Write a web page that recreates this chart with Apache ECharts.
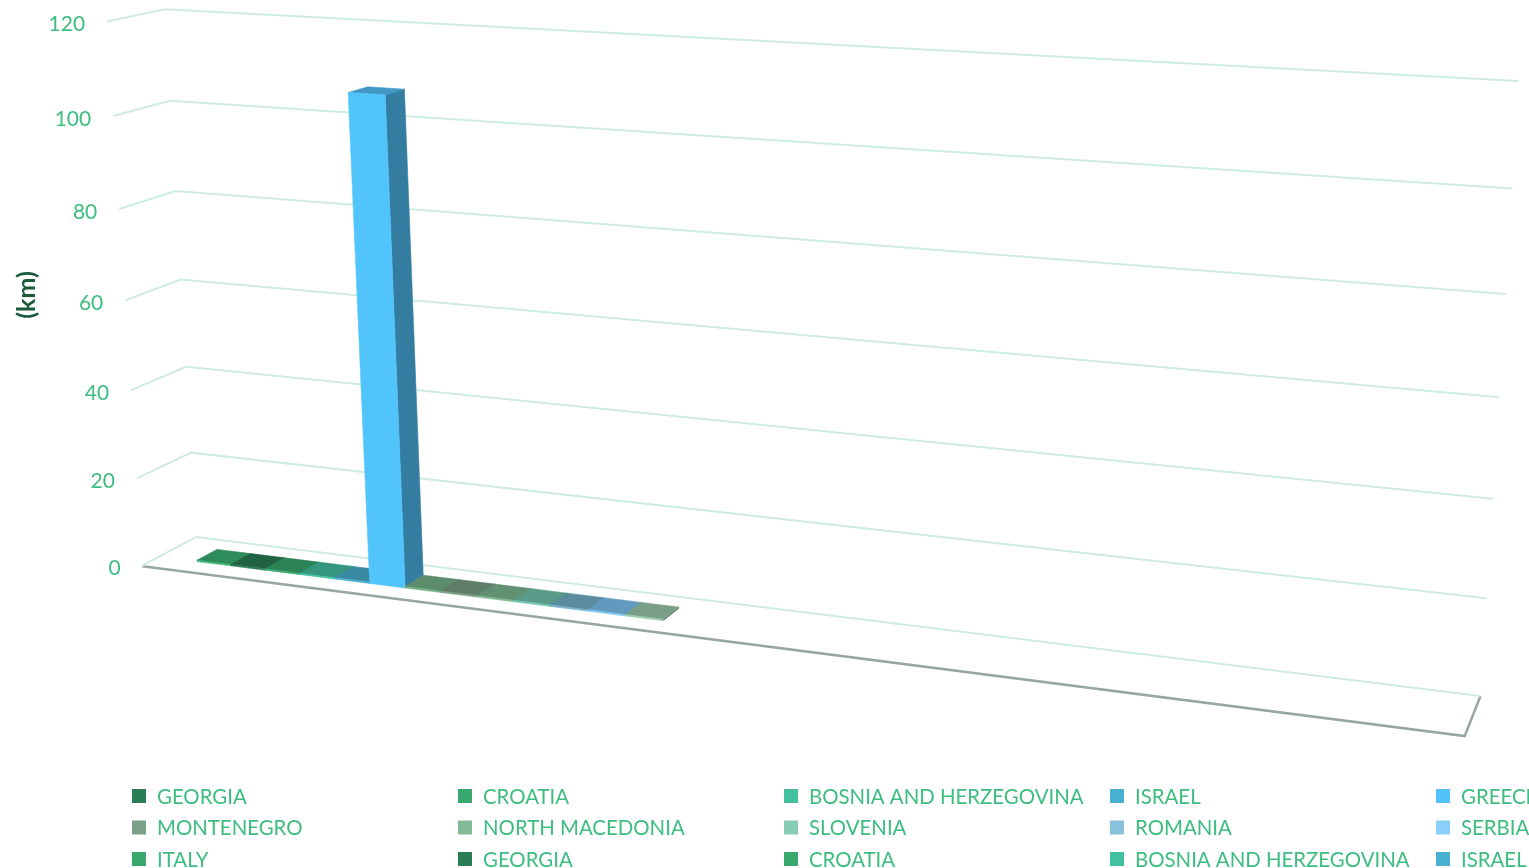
<!DOCTYPE html>
<html>
<head>
<meta charset="utf-8">
<script src="https://cdn.jsdelivr.net/npm/echarts@6/dist/echarts.min.js"></script>
<style>
  html, body { margin: 0; padding: 0; background: #ffffff; }
  #chart { width: 1529px; height: 868px; }
</style>
</head>
<body>
<div id="chart"></div>
<script>
// ---- data -------------------------------------------------------------
const AXIS_MIN = 0;
const AXIS_MAX = 120;
const AXIS_STEP = 20;
const tickValues = [0, 20, 40, 60, 80, 100, 120];
const axisTitle = '(km)';

// one column per country, left to right
const countries = ['ITALY', 'GEORGIA', 'CROATIA', 'BOSNIA AND HERZEGOVINA', 'ISRAEL', 'GREECE',
  'NORTH MACEDONIA', 'MONTENEGRO', 'NORTH MACEDONIA', 'SLOVENIA', 'ROMANIA', 'SERBIA', 'MONTENEGRO'];
const lengthsKm = [0.3, 0.3, 0.3, 0.3, 0.3, 107, 0.3, 0.3, 0.3, 0.3, 0.3, 0.3, 0.3];
const columnColors = ['#3bb273', '#2a7d55', '#38a86e', '#42c0a0', '#4ab0d0', '#52c4fc',
  '#76b48a', '#7aa088', '#7cba92', '#74c6ae', '#74b2cc', '#7cc6f4', '#9ccbae'];

// legend entries
const legendNames = ['GEORGIA', 'CROATIA', 'BOSNIA AND HERZEGOVINA', 'ISRAEL', 'GREECE',
  'MONTENEGRO', 'NORTH MACEDONIA', 'SLOVENIA', 'ROMANIA', 'SERBIA',
  'ITALY', 'GEORGIA', 'CROATIA', 'BOSNIA AND HERZEGOVINA', 'ISRAEL'];
const legendColors = ['#2a7d55', '#38a86e', '#42c0a0', '#4ab0d0', '#52c2fa',
  '#7aa088', '#80bb96', '#88ccb8', '#88c2da', '#8acffa',
  '#38a86e', '#2a7d55', '#38a86e', '#42c0a0', '#4ab0d0'];

// ---- 3D frame: perspective camera fitted to the box corners ------------
// [u (width 0..1), v (height 0..1), w (depth 0 front .. 1 back), screenX, screenY]
const FRAME = [
  [0, 0, 1, 196, 537], [0, 1/6, 1, 192, 453], [0, 2/6, 1, 186, 367], [0, 3/6, 1, 180, 280],
  [0, 4/6, 1, 175, 191], [0, 5/6, 1, 170, 101], [0, 1, 1, 164, 9],
  [0, 0, 0, 143, 566], [0, 1/6, 0, 137, 479], [0, 2/6, 0, 131, 389], [0, 3/6, 0, 126, 298],
  [0, 4/6, 0, 119, 209], [0, 5/6, 0, 113, 117], [0, 1, 0, 107, 22],
  [1, 0, 1, 1480, 696], [1, 1/6, 1, 1486, 598], [1, 2/6, 1, 1493, 498], [1, 3/6, 1, 1500, 397],
  [1, 4/6, 1, 1505, 294], [1, 5/6, 1, 1513, 188], [1, 1, 1, 1519, 82],
  [1, 0, 0, 1464, 736]
];
const ROW_U0 = 0.034, ROW_U1 = 0.424;   // span of the column row along the width
const DEPTH_W0 = 0.30, DEPTH_W1 = 0.68; // column depth inside the floor

function solveLinear(A, b) {
  const n = b.length;
  const M = A.map((row, i) => row.concat([b[i]]));
  for (let c = 0; c < n; c++) {
    let p = c;
    for (let r = c + 1; r < n; r++) if (Math.abs(M[r][c]) > Math.abs(M[p][c])) p = r;
    [M[c], M[p]] = [M[p], M[c]];
    for (let r = 0; r < n; r++) {
      if (r === c) continue;
      const f = M[r][c] / M[c][c];
      for (let k = c; k <= n; k++) M[r][k] -= f * M[c][k];
    }
  }
  return M.map((row, i) => row[n] / row[i]);
}

function fitCamera(points) {
  const SX = 764, SY = 434;
  const N = Array.from({ length: 11 }, () => new Array(11).fill(0));
  const r = new Array(11).fill(0);
  const add = (row, rhs) => {
    for (let i = 0; i < 11; i++) {
      r[i] += row[i] * rhs;
      for (let j = 0; j < 11; j++) N[i][j] += row[i] * row[j];
    }
  };
  points.forEach(([X, Y, Z, x, y]) => {
    const xn = x / SX - 1, yn = y / SY - 1;
    add([X, Y, Z, 1, 0, 0, 0, 0, -xn * X, -xn * Y, -xn * Z], xn);
    add([0, 0, 0, 0, X, Y, Z, 1, -yn * X, -yn * Y, -yn * Z], yn);
  });
  const p = solveLinear(N, r);
  return function (X, Y, Z) {
    const d = p[8] * X + p[9] * Y + p[10] * Z + 1;
    const xn = (p[0] * X + p[1] * Y + p[2] * Z + p[3]) / d;
    const yn = (p[4] * X + p[5] * Y + p[6] * Z + p[7]) / d;
    return [(xn + 1) * SX, (yn + 1) * SY];
  };
}
const project = fitCamera(FRAME);

function shade(hex, f) {
  const n = parseInt(hex.slice(1), 16);
  const c = [(n >> 16) & 255, (n >> 8) & 255, n & 255].map(v => Math.round(v * f));
  return 'rgb(' + c.join(',') + ')';
}
function signedArea(pts) {
  let s = 0;
  for (let i = 0; i < pts.length; i++) {
    const a = pts[i], b = pts[(i + 1) % pts.length];
    s += a[0] * b[1] - b[0] * a[1];
  }
  return s;
}
// height fraction of a value on the hidden value axis
function heightFrac(params, api, value) {
  const cs = params.coordSys;
  return (cs.y + cs.height - api.coord([0, value])[1]) / cs.height;
}

const LABEL_COLOR = '#3dbd80';
const GRID_COLOR = '#cfece0';
const FONT = 'Lato, "Open Sans", sans-serif';

// ---- chart ---------------------------------------------------------------
const chart = echarts.init(document.getElementById('chart'), null, { renderer: 'canvas' });

const legendGraphics = [];
legendNames.forEach((name, k) => {
  const col = k % 5, row = Math.floor(k / 5);
  const x = 132 + col * 326, y = 796 + row * 31.5;
  legendGraphics.push({
    type: 'rect', shape: { x: x, y: y - 7, width: 14, height: 14 },
    style: { fill: legendColors[k] }, silent: true
  });
  legendGraphics.push({
    type: 'text', x: x + 25, y: y + 1,
    style: { text: name, fill: LABEL_COLOR, font: '20.4px ' + FONT, verticalAlign: 'middle', align: 'left' },
    silent: true
  });
});
legendGraphics.push({
  type: 'text', x: 27, y: 295, rotation: Math.PI / 2,
  style: { text: axisTitle, fill: '#1b5a3a', font: 'bold 25px ' + FONT, align: 'center', verticalAlign: 'middle' },
  silent: true
});

chart.setOption({
  backgroundColor: '#ffffff',
  animation: false,
  grid: { left: 0, top: 0, width: 1000, height: 1000, show: false },
  xAxis: { type: 'category', data: countries, show: false },
  yAxis: { type: 'value', min: AXIS_MIN, max: AXIS_MAX, interval: AXIS_STEP, show: false },
  graphic: legendGraphics,
  series: [
    {
      // floor slab
      type: 'custom', coordinateSystem: 'cartesian2d', clip: false, silent: true, z: 1,
      data: [[0, 0]],
      renderItem: function () {
        const fl = project(0, 0, 0), fr = project(1, 0, 0), br = project(1, 0, 1), bl = project(0, 0, 1);
        return {
          type: 'group', children: [
            { type: 'polygon', shape: { points: [fl, fr, br, bl] }, style: { fill: '#ffffff' } },
            { type: 'polyline', shape: { points: [[fl[0], fl[1] + 1], [fr[0], fr[1] + 1], [br[0], br[1]]] },
              style: { stroke: '#97a6a0', lineWidth: 2.5, fill: null } }
          ]
        };
      }
    },
    {
      // wall gridlines and value labels
      type: 'custom', coordinateSystem: 'cartesian2d', clip: false, silent: true, z: 2,
      data: tickValues.map(v => [0, v]),
      renderItem: function (params, api) {
        const v = api.value(1);
        const t = heightFrac(params, api, v);
        const a = project(0, t, 0), b = project(0, t, 1), c = project(1, t, 1);
        return {
          type: 'group', children: [
            { type: 'polyline', shape: { points: [a, b, c] }, style: { stroke: GRID_COLOR, lineWidth: 2, fill: null } },
            { type: 'text', x: a[0] - 22, y: a[1] + 3,
              style: { text: String(v), fill: LABEL_COLOR, font: '21px ' + FONT, align: 'right', verticalAlign: 'middle' } }
          ]
        };
      }
    },
    {
      // 3D columns
      type: 'custom', coordinateSystem: 'cartesian2d', clip: false, silent: true, z: 3,
      data: countries.map((c, i) => [i, lengthsKm[i]]),
      renderItem: function (params, api) {
        const cs = params.coordSys;
        const i = api.value(0), val = api.value(1);
        const cx = api.coord([i, val])[0];
        const bw = api.size([1, 0])[0];
        const s0 = (cx - bw / 2 - cs.x) / cs.width, s1 = (cx + bw / 2 - cs.x) / cs.width;
        const u0 = ROW_U0 + s0 * (ROW_U1 - ROW_U0), u1 = ROW_U0 + s1 * (ROW_U1 - ROW_U0);
        const t = heightFrac(params, api, val);
        const w0 = DEPTH_W0, w1 = DEPTH_W1;
        const base = columnColors[params.dataIndex];
        const faces = [
          { pts: [[u0, 0, w0], [u0, t, w0], [u0, t, w1], [u0, 0, w1]], color: shade(base, 0.64) },
          { pts: [[u1, 0, w0], [u1, 0, w1], [u1, t, w1], [u1, t, w0]], color: shade(base, 0.64) },
          { pts: [[u0, t, w0], [u1, t, w0], [u1, t, w1], [u0, t, w1]], color: shade(base, 0.78) },
          { pts: [[u0, 0, w0], [u1, 0, w0], [u1, t, w0], [u0, t, w0]], color: base }
        ].map(f => ({ pts: f.pts.map(p => project(p[0], p[1], p[2])), color: f.color }));
        const frontSign = Math.sign(signedArea(faces[3].pts));
        const children = faces
          .filter((f, k) => k === 3 || k === 2 || Math.sign(signedArea(f.pts)) === frontSign)
          .map(f => ({
            type: 'polygon', shape: { points: f.pts },
            style: { fill: f.color, stroke: f.color, lineWidth: 0.6 }
          }));
        return { type: 'group', children: children };
      }
    }
  ]
});
</script>
</body>
</html>
